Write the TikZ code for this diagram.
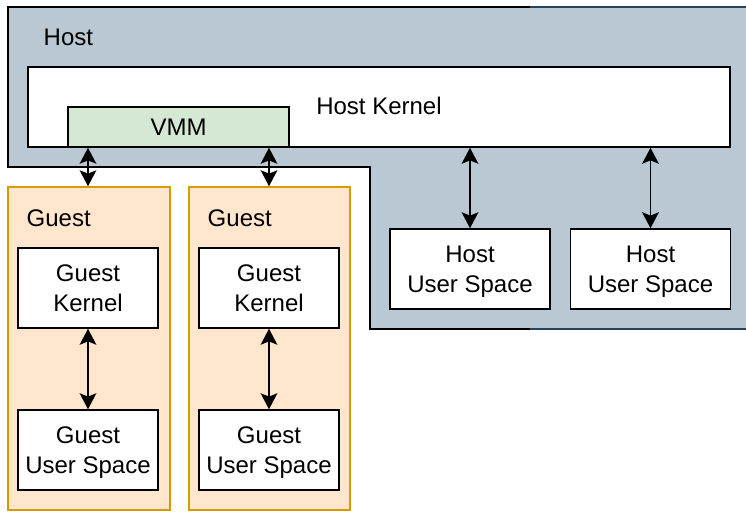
\documentclass[tikz,border=0pt]{standalone}
\usepackage{fontspec}
\setmainfont{Liberation Sans}
\usetikzlibrary{arrows.meta}
\definecolor{hostfill}{HTML}{BAC8D3}
\definecolor{hostline}{HTML}{23445D}
\definecolor{vmmfill}{HTML}{D5E8D4}
\definecolor{guestfill}{HTML}{FFE6CC}
\definecolor{guestline}{HTML}{D79B00}
\tikzset{every picture/.style={line width=1.1pt}}
\tikzset{
  box/.style={draw=black, fill=white, inner sep=0pt, align=center, text depth=0pt, font=\fontsize{18}{22.5}\selectfont},
  guestbox/.style={draw=guestline, fill=guestfill, inner sep=0pt},
  txt/.style={inner sep=0pt, anchor=west, font=\fontsize{18}{22.5}\selectfont},
  dbl/.style={{Stealth[length=12pt,width=12.5pt,inset=2.5pt]}-{Stealth[length=12pt,width=12.5pt,inset=2.5pt]}}
}

\begin{document}
\begin{tikzpicture}[x=0.75pt,y=0.75pt,yscale=-1]
	\useasboundingbox (0,0) rectangle (746,511);
	%Host area
	\fill[hostfill] (8,7) rectangle (746,329);
	\draw[hostline] (530,7) -- (750,7);
	\draw[hostline] (530,329) -- (750,329);
	\fill[white] (8,167) rectangle (370,511);
	\draw (530,7) -- (8,7) -- (8,167) -- (370,167) -- (370,329) -- (530,329);
	\node[txt] (host) at (43,37) {Host};
	%Host kernel and VMM
	\node[box, minimum width=702*0.75pt, minimum height=80*0.75pt] (hk) at (379,107) {};
	\node[inner sep=0pt, font=\fontsize{18}{22.5}\selectfont] (hktxt) at (379,106) {Host Kernel};
	\node[box, fill=vmmfill, minimum width=221*0.75pt, minimum height=40*0.75pt] (vmm) at (178.5,127) {VMM};
	%Host user spaces
	\node[box, minimum width=160*0.75pt, minimum height=80*0.75pt] (hus1) at (470,269) {Host\\User Space};
	\node[box, minimum width=160*0.75pt, minimum height=80*0.75pt] (hus2) at (650.5,269) {Host\\User Space};
	%Guests
	\node[guestbox, minimum width=162*0.75pt, minimum height=323*0.75pt] (g1) at (89,348.5) {};
	\node[guestbox, minimum width=161*0.75pt, minimum height=323*0.75pt] (g2) at (269.5,348.5) {};
	\node[txt] (g1txt) at (26,218) {Guest};
	\node[txt] (g2txt) at (207,218) {Guest};
	\node[box, minimum width=140*0.75pt, minimum height=80*0.75pt] (gk1) at (88,288) {Guest\\Kernel};
	\node[box, minimum width=140*0.75pt, minimum height=80*0.75pt] (gk2) at (269,288) {Guest\\Kernel};
	\node[box, minimum width=140*0.75pt, minimum height=80*0.75pt] (gus1) at (88,450) {Guest\\User Space};
	\node[box, minimum width=140*0.75pt, minimum height=80*0.75pt] (gus2) at (269,450) {Guest\\User Space};
	%Arrows
	\draw[dbl] (vmm.south -| gk1.north) -- (g1.north -| gk1.north);
	\draw[dbl] (vmm.south -| gk2.north) -- (g2.north -| gk2.north);
	\draw[dbl] (hk.south -| hus1.north) -- (hus1.north);
	\draw[dbl] (hk.south -| hus2.north) -- (hus2.north);
	\draw[dbl] (gk1.south) -- (gus1.north);
	\draw[dbl] (gk2.south) -- (gus2.north);
\end{tikzpicture}
\end{document}
